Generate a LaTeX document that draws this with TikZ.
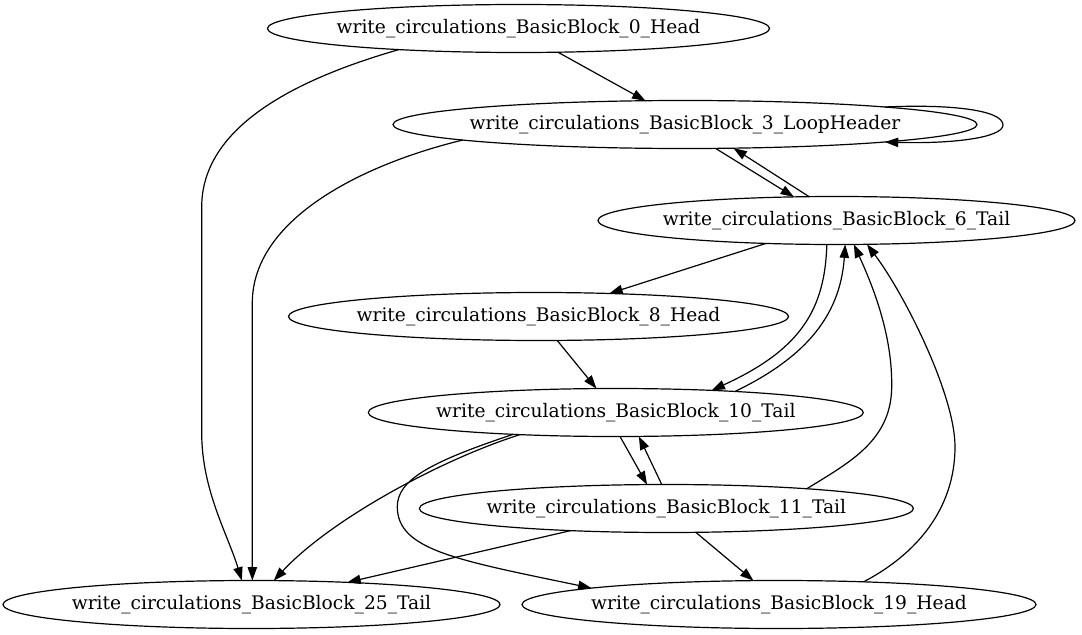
\documentclass[tikz,border=0pt]{standalone}
\usepackage{fontspec}
\setmainfont{DejaVu Serif}
\usetikzlibrary{shapes.geometric,arrows.meta}
\newcommand{\zw}[1]{\makebox[0pt][c]{#1}}
\tikzset{
  blk/.style={ellipse, draw, line width=0.9pt, inner sep=0pt, outer sep=0pt,
    minimum width=#1*0.75pt, minimum height=36pt,
    font=\fontsize{14pt}{16pt}\selectfont},
  edge/.style={draw, line width=0.9pt, -{Triangle[length=10pt,width=7pt]}}
}
\begin{document}
\begin{tikzpicture}[x=0.75pt,y=-0.75pt]
\fill[white] (0,0) rectangle (1082,635);
\useasboundingbox (0,0) rectangle (1082,635);
\node[blk=502] (n0) at (518.5,28.5) {\zw{write\_circulations\_BasicBlock\_0\_Head}};
\node[blk=584] (n3) at (685,124.5) {\zw{write\_circulations\_BasicBlock\_3\_LoopHeader}};
\node[blk=477] (n6) at (836.5,220.5) {\zw{write\_circulations\_BasicBlock\_6\_Tail}};
\node[blk=500] (n8) at (538.5,316.5) {\zw{write\_circulations\_BasicBlock\_8\_Head}};
\node[blk=495] (n10) at (615.8,412.5) {\zw{write\_circulations\_BasicBlock\_10\_Tail}};
\node[blk=494] (n11) at (666.4,508.5) {\zw{write\_circulations\_BasicBlock\_11\_Tail}};
\node[blk=497] (n25) at (251.5,604.5) {\zw{write\_circulations\_BasicBlock\_25\_Tail}};
\node[blk=514] (n19) at (779,604.5) {\zw{write\_circulations\_BasicBlock\_19\_Head}};

\draw[edge] (n0.-31) -- (n3.149.3);
\draw[edge] (n0.190.5) .. controls (300,78) and (201.7,125) .. (201.7,207) -- (201.7,433) .. controls (201.7,490) and (228,535) .. (n25.112.2);
\draw[edge] (n3.5) .. controls (950,104) and (1003,110) .. (1003,125) .. controls (1003,138) and (950,144) .. (n3.-5.1);
\draw[edge] (n3.184.5) .. controls (360,165) and (252.3,220) .. (252.3,303) -- (n25.88.1);
\draw[edge] (n3.-38.5) -- (n6.151.35);
\draw[edge] (n6.139.8) -- (n3.-26.9);
\draw[edge] (n6.198.6) -- (n8.18.1);
\draw[edge] (n8.-52.2) -- (n10.129.7);
\draw[edge] (n6.-112.2) .. controls (825,310) and (800,350) .. (n10.13.26);
\draw[edge] (n10.10.95) .. controls (800,360) and (840,320) .. (n6.-70.5);
\draw[edge] (n11.8.44) .. controls (850,462) and (893,440) .. (891.7,383.3) .. controls (891.7,330) and (870,280) .. (n6.-54.9);
\draw[edge] (n19.15.05) .. controls (915,555) and (955,510) .. (955,446.7) .. controls (955,395) and (905,295) .. (n6.-38.2);
\draw[edge] (n10.-80.1) -- (n11.129.6);
\draw[edge] (n11.101.1) -- (n10.-46.7);
\draw[edge] (n10.193) .. controls (440,460) and (330,520) .. (n25.47.6);
\draw[edge] (n10.192.3) .. controls (430,462) and (397.3,480) .. (397.3,506.7) .. controls (397.3,550) and (456.7,560) .. (n19.175.3);
\draw[edge] (n11.193.4) -- (n25.13.4);
\draw[edge] (n11.-39.8) -- (n19.137.1);
\end{tikzpicture}
\end{document}
